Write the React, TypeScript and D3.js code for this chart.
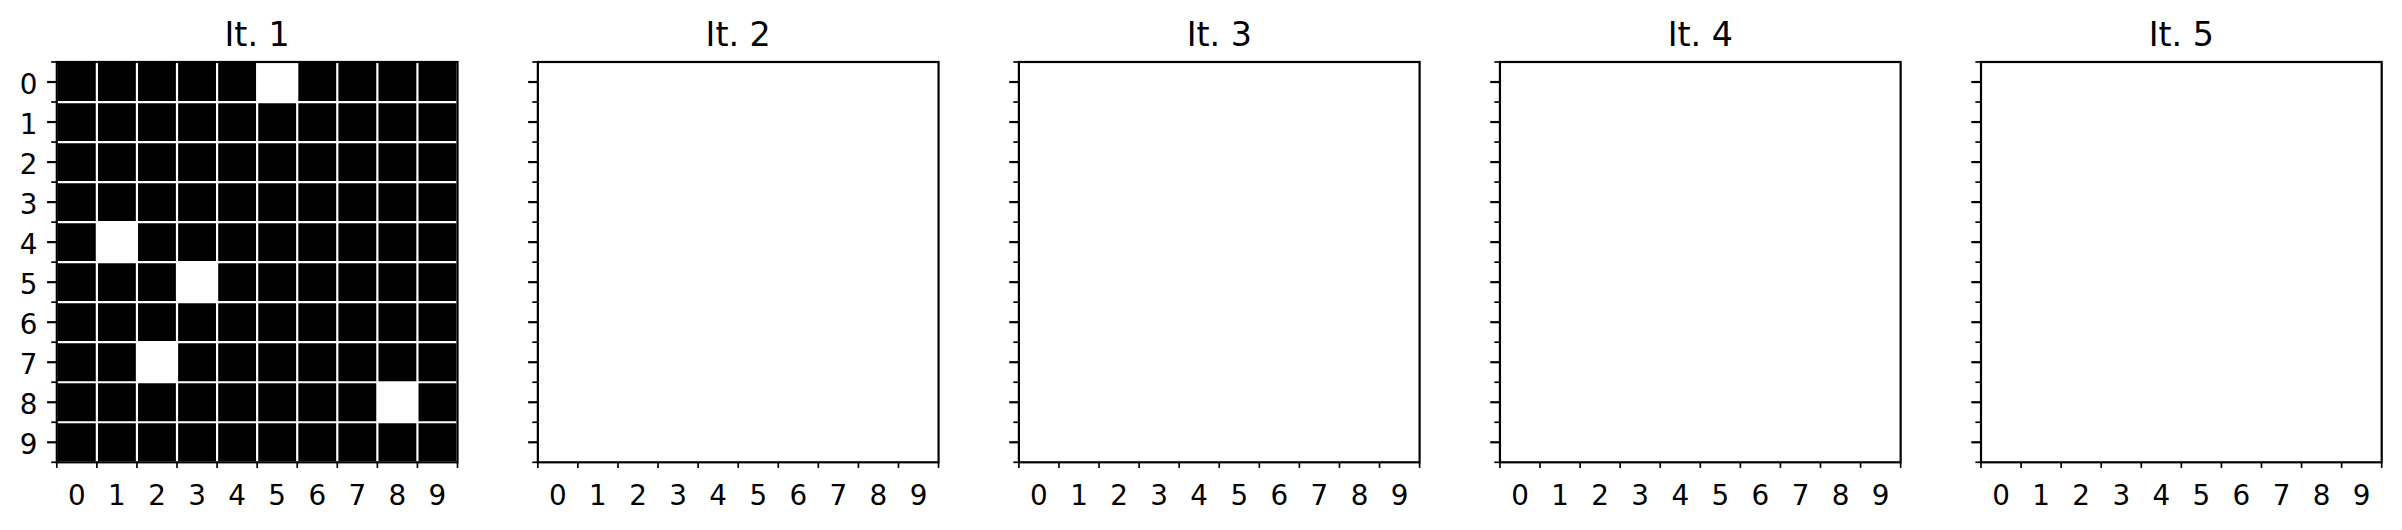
import React from "react";
import * as d3 from "d3";

// ---- data ----
const titles: string[] = ["It. 1", "It. 2", "It. 3", "It. 4", "It. 5"];
const rowLabels: string[] = ["0", "1", "2", "3", "4", "5", "6", "7", "8", "9"];
const colLabels: string[] = ["0", "1", "2", "3", "4", "5", "6", "7", "8", "9"];
// 1 = black cell, 0 = white cell
const grid1: number[][] = [
  [1, 1, 1, 1, 1, 0, 1, 1, 1, 1],
  [1, 1, 1, 1, 1, 1, 1, 1, 1, 1],
  [1, 1, 1, 1, 1, 1, 1, 1, 1, 1],
  [1, 1, 1, 1, 1, 1, 1, 1, 1, 1],
  [1, 0, 1, 1, 1, 1, 1, 1, 1, 1],
  [1, 1, 1, 0, 1, 1, 1, 1, 1, 1],
  [1, 1, 1, 1, 1, 1, 1, 1, 1, 1],
  [1, 1, 0, 1, 1, 1, 1, 1, 1, 1],
  [1, 1, 1, 1, 1, 1, 1, 1, 0, 1],
  [1, 1, 1, 1, 1, 1, 1, 1, 1, 1],
];
const emptyRow: number[] = [0, 0, 0, 0, 0, 0, 0, 0, 0, 0];
const grid2: number[][] = rowLabels.map(() => emptyRow);
const grid3: number[][] = rowLabels.map(() => emptyRow);
const grid4: number[][] = rowLabels.map(() => emptyRow);
const grid5: number[][] = rowLabels.map(() => emptyRow);
const grids: number[][][] = [grid1, grid2, grid3, grid4, grid5];

// ---- layout ----
const W = 2402;
const H = 530;
const left0 = 56.8;
const step = 481.05;
const pw = 400.7;
const top = 62;
const ph = 400.3;
const FONT = "'DejaVu Sans', sans-serif";
const tickFont = 27.8;
const titleFont = 33.3;
const majorLen = 9.7;
const minorLen = 5.6;
const majorW = 2.2;
const minorW = 1.67;

function Panel({ idx }: { idx: number }) {
  const x0 = left0 + idx * step;
  const data = grids[idx];
  const x = d3.scaleBand<string>().domain(colLabels).range([x0, x0 + pw]).padding(0);
  const y = d3.scaleBand<string>().domain(rowLabels).range([top, top + ph]).padding(0);
  const bw = x.bandwidth();
  const bh = y.bandwidth();
  const color = d3.scaleOrdinal<number, string>().domain([0, 1]).range(["#ffffff", "#000000"]);
  const xBounds = colLabels.map((c) => x(c)!).concat([x0 + pw]);
  const yBounds = rowLabels.map((r) => y(r)!).concat([top + ph]);
  const bottom = top + ph;
  return (
    <g>
      <text x={x0 + pw / 2} y={top - 16.3} textAnchor="middle" fontSize={titleFont} fontFamily={FONT} fill="#000">
        {titles[idx]}
      </text>
      {/* cells */}
      {data.map((row, ri) =>
        row.map((v, ci) => (
          <rect
            key={`c${ri}-${ci}`}
            x={x(colLabels[ci])!}
            y={y(rowLabels[ri])!}
            width={bw + 0.5}
            height={bh + 0.5}
            fill={color(v)}
          />
        ))
      )}
      {/* grid at minor boundaries */}
      {xBounds.map((b, i) => (
        <line key={`gx${i}`} x1={b} x2={b} y1={top} y2={bottom} stroke="#ffffff" strokeWidth={2.2} />
      ))}
      {yBounds.map((b, i) => (
        <line key={`gy${i}`} x1={x0} x2={x0 + pw} y1={b} y2={b} stroke="#ffffff" strokeWidth={2.2} />
      ))}
      {/* spines */}
      <rect x={x0} y={top} width={pw} height={ph} fill="none" stroke="#000" strokeWidth={majorW} />
      {/* y major ticks */}
      {rowLabels.map((r) => {
        const cy = y(r)! + bh / 2;
        return (
          <line key={`ym${r}`} x1={x0 - majorLen} x2={x0} y1={cy} y2={cy} stroke="#000" strokeWidth={majorW} />
        );
      })}
      {/* y minor ticks */}
      {yBounds.map((b, i) => (
        <line key={`yn${i}`} x1={x0 - minorLen} x2={x0} y1={b} y2={b} stroke="#000" strokeWidth={minorW} />
      ))}
      {/* x minor ticks */}
      {xBounds.map((b, i) => (
        <line key={`xn${i}`} x1={b} x2={b} y1={bottom} y2={bottom + minorLen} stroke="#000" strokeWidth={minorW} />
      ))}
      {/* x labels */}
      {colLabels.map((c) => (
        <text
          key={`xl${c}`}
          x={x(c)! + bw / 2}
          y={bottom + 42.7}
          textAnchor="middle"
          fontSize={tickFont}
          fontFamily={FONT}
          fill="#000"
        >
          {c}
        </text>
      ))}
      {/* y labels only on first panel */}
      {idx === 0 &&
        rowLabels.map((r) => (
          <text
            key={`yl${r}`}
            x={x0 - 19.4}
            y={y(r)! + bh / 2 + 12}
            textAnchor="end"
            fontSize={tickFont}
            fontFamily={FONT}
            fill="#000"
          >
            {r}
          </text>
        ))}
    </g>
  );
}

export default function App() {
  return (
    <svg
      width={W}
      height={H}
      viewBox={`0 0 ${W} ${H}`}
      style={{ position: "absolute", left: 0, top: 0, background: "#fff" }}
    >
      <rect x={0} y={0} width={W} height={H} fill="#fff" />
      {titles.map((_, i) => (
        <Panel key={i} idx={i} />
      ))}
    </svg>
  );
}
